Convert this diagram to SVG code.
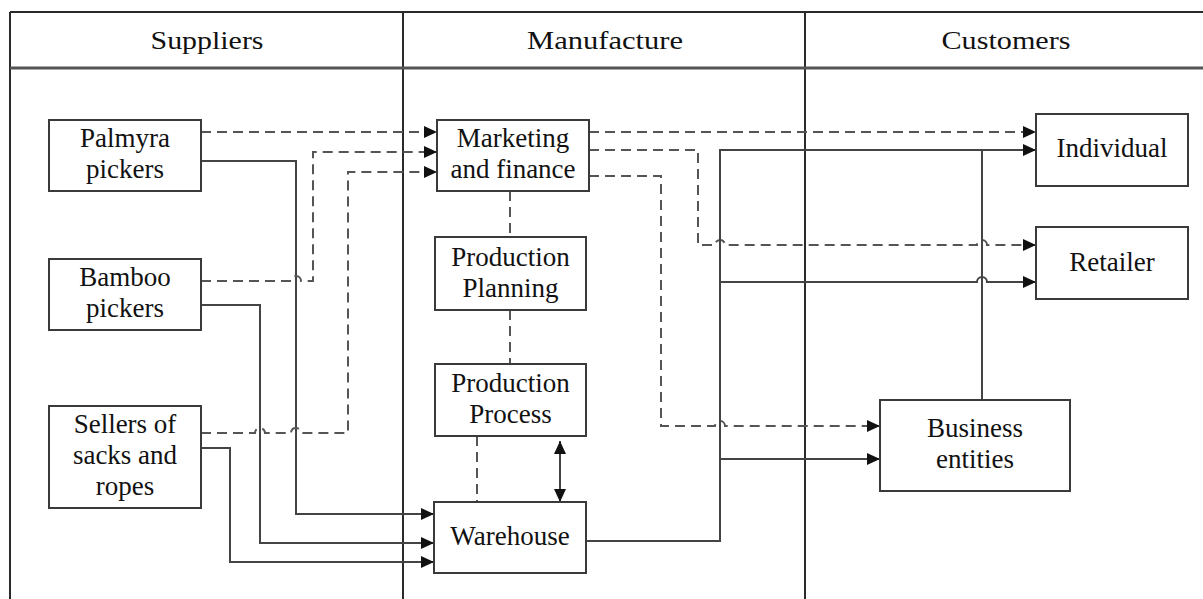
<svg xmlns="http://www.w3.org/2000/svg" width="1203" height="599" viewBox="0 0 1203 599">
<style>
.tbl{stroke:#2a2a2a;stroke-width:2;fill:none}
.hdr{stroke:#555;stroke-width:3;fill:none}
.box{fill:#fff;stroke:#3a3a3a;stroke-width:2}
.t{font-family:"Liberation Serif","Times New Roman",serif;font-size:27px;fill:#111;text-anchor:middle}
.h{font-family:"Liberation Serif","Times New Roman",serif;font-size:26px;fill:#111;text-anchor:middle}
.s{stroke:#444;stroke-width:2;fill:none}
.d{stroke:#555;stroke-width:2;fill:none;stroke-dasharray:10 6}
.a{marker-end:url(#arr)}
</style>
<defs>
<marker id="arr" markerUnits="userSpaceOnUse" markerWidth="13" markerHeight="12" refX="13" refY="6" orient="auto">
<path d="M0,0 L13,6 L0,12 z" fill="#111"/>
</marker>
<marker id="arr2" markerUnits="userSpaceOnUse" markerWidth="13" markerHeight="12" refX="13" refY="6" orient="auto-start-reverse">
<path d="M0,0 L13,6 L0,12 z" fill="#111"/>
</marker>
</defs>
<rect width="1203" height="599" fill="#fff"/>
<g id="table">
<path class="tbl" d="M10,12 H1203 M10,12 V599 M403,12 V599 M805,12 V599"/>
<path class="hdr" d="M10,68 H1203"/>
<text class="h" x="207" y="49" textLength="113" lengthAdjust="spacingAndGlyphs">Suppliers</text>
<text class="h" x="605" y="49" textLength="156" lengthAdjust="spacingAndGlyphs">Manufacture</text>
<text class="h" x="1006" y="49" textLength="129" lengthAdjust="spacingAndGlyphs">Customers</text>
</g>
<g id="connectors">
<path class="d a" d="M201,132 H437"/>
<path class="s a" d="M201,161 H296 V514 H434"/>
<path class="d a" d="M201,281 H291 A5,5 0 0 1 301,281 H313 V152 H437"/>
<path class="s a" d="M201,305 H260 V543 H434"/>
<path class="d a" d="M201,433 H255 A5,5 0 0 1 265,433 H291 A5,5 0 0 1 301,433 H348 V172 H437"/>
<path class="s a" d="M201,448 H230 V562 H434"/>
<path class="d a" d="M589,132 H1036"/>
<path class="d a" d="M589,150 H698 V245 H715 A5,5 0 0 1 725,245 H977 A5,5 0 0 1 987,245 H1036"/>
<path class="d a" d="M589,176 H661 V426 H715 A5,5 0 0 1 725,426 H880"/>
<path class="d" d="M510,191 V237"/>
<path class="d" d="M510,310 V364"/>
<path class="d" d="M477,436 V502"/>
<path class="s" d="M560,441 V502" marker-start="url(#arr2)" marker-end="url(#arr2)"/>
<path class="s a" d="M586,541 H720 V150 H1036"/>
<path class="s a" d="M720,282 H977 A5,5 0 0 1 987,282 H1036"/>
<path class="s a" d="M720,459 H880"/>
<path class="s" d="M982,400 V150"/>
</g>
<g id="palmyra">
<rect class="box" x="49" y="120" width="152" height="71"/>
<text class="t" x="125" y="147">Palmyra</text>
<text class="t" x="125" y="178">pickers</text>
</g>
<g id="bamboo">
<rect class="box" x="49" y="259" width="152" height="71"/>
<text class="t" x="125" y="286">Bamboo</text>
<text class="t" x="125" y="317">pickers</text>
</g>
<g id="sellers">
<rect class="box" x="49" y="406" width="152" height="102"/>
<text class="t" x="125" y="433">Sellers of</text>
<text class="t" x="125" y="464">sacks and</text>
<text class="t" x="125" y="495">ropes</text>
</g>
<g id="marketing">
<rect class="box" x="437" y="120" width="152" height="71"/>
<text class="t" x="513" y="147">Marketing</text>
<text class="t" x="513" y="178">and finance</text>
</g>
<g id="planning">
<rect class="box" x="435" y="237" width="151" height="73"/>
<text class="t" x="510.5" y="266">Production</text>
<text class="t" x="510.5" y="297">Planning</text>
</g>
<g id="process">
<rect class="box" x="435" y="364" width="151" height="72"/>
<text class="t" x="510.5" y="392">Production</text>
<text class="t" x="510.5" y="423">Process</text>
</g>
<g id="warehouse">
<rect class="box" x="434" y="502" width="152" height="71"/>
<text class="t" x="510" y="545">Warehouse</text>
</g>
<g id="individual">
<rect class="box" x="1036" y="114" width="152" height="72"/>
<text class="t" x="1112" y="157">Individual</text>
</g>
<g id="retailer">
<rect class="box" x="1036" y="227" width="152" height="72"/>
<text class="t" x="1112" y="271">Retailer</text>
</g>
<g id="business">
<rect class="box" x="880" y="400" width="190" height="91"/>
<text class="t" x="975" y="437">Business</text>
<text class="t" x="975" y="468">entities</text>
</g>
</svg>
